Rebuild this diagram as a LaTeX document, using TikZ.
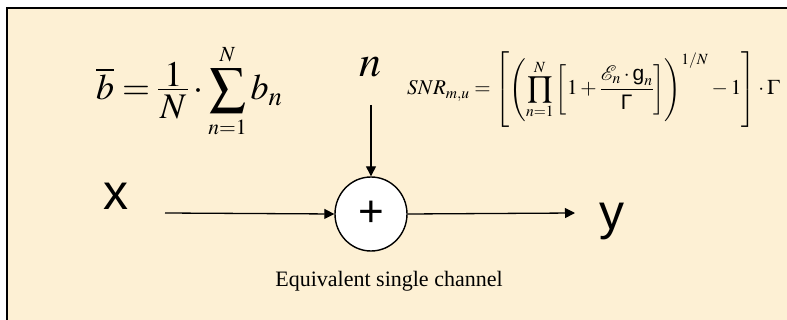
\documentclass[tikz,border=0pt]{standalone}
\usepackage{mathptmx}
\usepackage{amsmath}
\usepackage{fontspec}
\setmainfont{Liberation Serif}
\newfontfamily\arial{Liberation Sans}
\usetikzlibrary{arrows.meta,shapes.geometric}
\definecolor{bg}{RGB}{253,240,212}
\newcommand{\onefrac}[2]{\vcenter{\offinterlineskip\halign{\hfil$##$\hfil\cr #1\cr\noalign{\kern2pt\hrule height 1.3pt\kern5pt}\kern2pt #2\kern2pt\cr}}}
\tikzset{
  conn/.style={line width=1.3pt, -{Triangle[length=10pt,width=10pt]}},
  lbl/.style={font=\arial\fontsize{50}{50}\selectfont, inner sep=0pt},
  eqn/.style={inner sep=0pt, anchor=base west},
}
\begin{document}
\begin{tikzpicture}[x=1pt,y=-1pt]
\useasboundingbox (0,0) rectangle (787,320);
\fill[white] (0,0) rectangle (787,320);
\fill[bg] (7,8) rectangle (787,320);
\draw[line width=1.8pt] (7,320) -- (7,8) -- (787,8);

\node[draw, line width=1.4pt, fill=white, ellipse, minimum width=72pt, minimum height=74pt, inner sep=0pt,
      font=\arial\fontsize{44}{44}\selectfont] (sum) at (371,214) {+};

\node[lbl] (xl) at (116,196) {x};
\node[lbl] (yl) at (612,221) {y};
\node[inner sep=0pt, font=\fontsize{44}{44}\selectfont] (nl) at (370,67) {$n$};

\coordinate (xs) at (165,213);
\coordinate (ye) at (575,213);
\coordinate (ns) at (371,105);

\draw[conn] (xs) -- (sum.west);
\draw[conn] (sum.east) -- (ye);
\draw[conn] (ns) -- (sum.north);

\node[eqn, font=\fontsize{36}{40}\selectfont] (f1) at (96,100)
  {$\displaystyle \overline{b}=\onefrac{1}{N}\cdot\sum\limits_{\scriptscriptstyle n=1}^{\scriptscriptstyle N} b_n$};

\node[eqn, font=\fontsize{21}{25}\selectfont] (f2) at (407,95)
  {$\displaystyle SNR_{m,u}=\left[\left(\prod_{n=1}^{N}\left[1+\frac{\mathcal{E}_n\cdot\text{\arial g}_n}{\text{\arial Γ}}\right]\right)^{1/N}-1\right]\cdot\Gamma$};

\node[inner sep=0pt, font=\fontsize{22}{26}\selectfont] (cap) at (389,281) {Equivalent single channel};
\end{tikzpicture}
\end{document}
